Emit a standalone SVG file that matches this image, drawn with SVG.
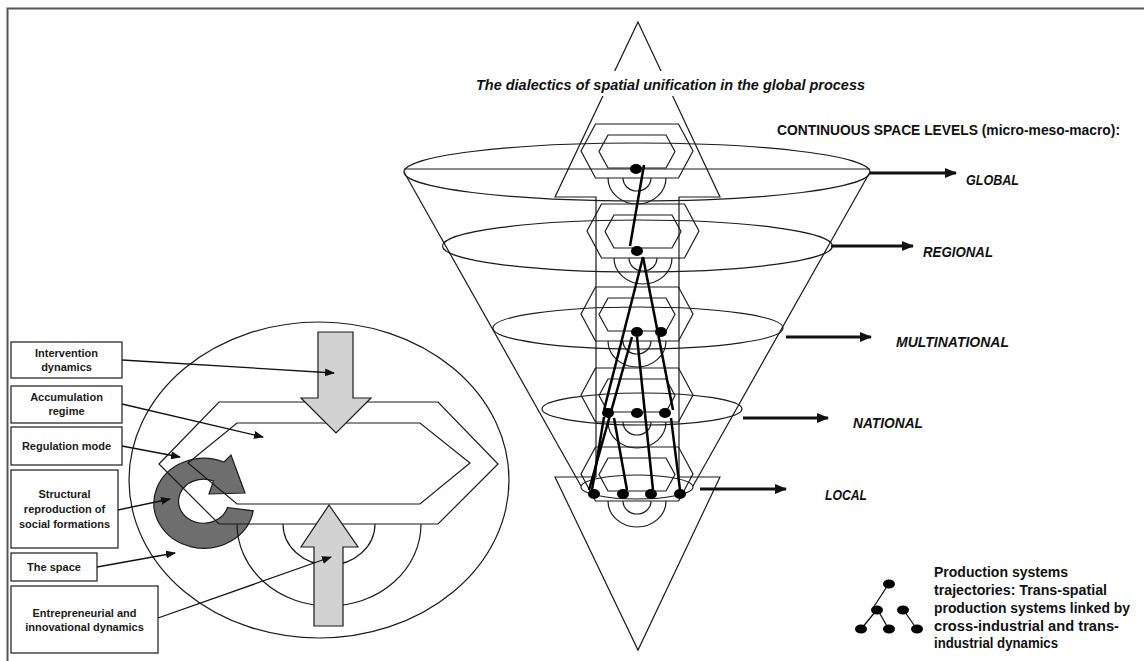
<svg xmlns="http://www.w3.org/2000/svg" xmlns:xlink="http://www.w3.org/1999/xlink" width="1144" height="661" viewBox="0 0 1144 661">
<style>
.ln{fill:none;stroke:#1a1a1a;stroke-width:1.2}
.box{fill:#fff;stroke:#1a1a1a;stroke-width:1.2}
.lbl{font-family:"Liberation Sans",Arial,sans-serif;font-weight:bold;font-size:11px;fill:#1a1a1a;text-anchor:middle}
.lvl{font-family:"Liberation Sans",Arial,sans-serif;font-weight:bold;font-style:italic;font-size:14px;fill:#111}
.hd{font-family:"Liberation Sans",Arial,sans-serif;font-weight:bold;font-size:14px;fill:#111}
.leg{font-family:"Liberation Sans",Arial,sans-serif;font-weight:bold;font-size:14.5px;fill:#111}
.con{fill:none;stroke:#111;stroke-width:1.3;marker-end:url(#ah)}
.lvar{fill:none;stroke:#111;stroke-width:3;marker-end:url(#ahb)}
.traj{fill:none;stroke:#000;stroke-width:2.5}
.dot{fill:#000}
.gray{fill:#d2d2d2;stroke:#1a1a1a;stroke-width:1.2}
</style>
<defs>
<marker id="ah" markerUnits="userSpaceOnUse" markerWidth="10" markerHeight="8" refX="9" refY="4" orient="auto"><path d="M0,0 L10,4 L0,8 Z" fill="#111"/></marker>
<marker id="ahb" markerUnits="userSpaceOnUse" markerWidth="12" markerHeight="10" refX="11" refY="5" orient="auto"><path d="M0,0 L12,5 L0,10 Z" fill="#111"/></marker>
<g id="mod">
<path class="ln" d="M-41.5,0 H41.5 L56,27 L41.5,54 H-41.5 L-56,27 Z"/>
<path class="ln" d="M-29,11 H29 L38,27.5 L29,44 H-29 L-38,27.5 Z"/>
<path class="ln" d="M-29,54 A29,26 0 0 0 29,54"/>
<path class="ln" d="M-14,54 A14,13 0 0 0 14,54"/>
</g>
</defs>
<rect width="1144" height="661" fill="#fff"/>
<path d="M7.5,661 V8.5 H1144" fill="none" stroke="#555" stroke-width="2"/>

<!-- Left diagram -->
<g id="space-ellipse"><ellipse class="ln" cx="319" cy="480" rx="190" ry="158"/></g>
<g id="structural-reproduction-arrow"><path d="M227.5,507.5 L253.2,510.8 A50,45 0 1 1 224,462 L231,455 L245,493 L209,494 L213.5,481 A25,22 0 1 0 227.5,507.5 Z" fill="#6e6e6e" stroke="#1a1a1a" stroke-width="1.2"/></g>
<g id="regulation-hexagon"><polygon class="ln" points="159,464 219,402 438,402 498,464 438,524 219,524"/></g>
<g id="accumulation-hexagon"><polygon class="ln" points="188,463 237,423 420,423 470,463 420,504 237,504"/></g>
<g id="innovation-arcs">
<path class="ln" d="M237,524 A92,82 0 0 0 421,524"/>
<path class="ln" d="M283,524 A46,41 0 0 0 375,524"/>
</g>
<g id="intervention-arrow"><polygon class="gray" points="318,332 353,332 353,398 371,398 336,433 301,398 318,398"/></g>
<g id="entrepreneurial-arrow"><polygon class="gray" points="329,505 358,547 343,547 343,626 314,626 314,547 301,547"/></g>

<g id="box-intervention"><rect class="box" x="11" y="342" width="111" height="36"/><text class="lbl" x="66.5" y="357">Intervention</text><text class="lbl" x="66.5" y="371">dynamics</text></g>
<g id="box-accumulation"><rect class="box" x="11" y="386" width="111" height="37"/><text class="lbl" x="66.5" y="401">Accumulation</text><text class="lbl" x="66.5" y="415">regime</text></g>
<g id="box-regulation"><rect class="box" x="11" y="427" width="111" height="38"/><text class="lbl" x="66.5" y="450">Regulation mode</text></g>
<g id="box-structural"><rect class="box" x="11" y="470" width="107" height="78"/><text class="lbl" x="64.5" y="498">Structural</text><text class="lbl" x="64.5" y="513">reproduction of</text><text class="lbl" x="64.5" y="528">social formations</text></g>
<g id="box-space"><rect class="box" x="11" y="553" width="86" height="28"/><text class="lbl" x="54" y="571">The space</text></g>
<g id="box-entrepreneurial"><rect class="box" x="11" y="586" width="147" height="67"/><text class="lbl" x="84.5" y="617">Entrepreneurial and</text><text class="lbl" x="84.5" y="631">innovational dynamics</text></g>

<!-- Right diagram -->
<g id="cone">
<ellipse class="ln" cx="637" cy="172" rx="233" ry="29"/>
<path class="ln" d="M404,169 H870"/>
<ellipse class="ln" cx="637.5" cy="246" rx="195" ry="26"/>
<ellipse class="ln" cx="638" cy="328" rx="145" ry="21"/>
<ellipse class="ln" cx="642" cy="409" rx="100" ry="16"/>
<ellipse class="ln" cx="637" cy="487" rx="56" ry="12"/>
<path class="ln" d="M404,172 L581,486 M870,172 L693,486"/>
</g>
<g id="unification-double-arrow"><polygon class="ln" points="638,22 720,197 679,197 679,477 720,477 638,650 555,477 596,477 596,197 555,197"/></g>
<g id="level-global"><use xlink:href="#mod" href="#mod" x="637" y="124"/></g>
<g id="level-regional"><use xlink:href="#mod" href="#mod" x="643" y="204"/></g>
<g id="level-multinational"><use xlink:href="#mod" href="#mod" x="637" y="287"/></g>
<g id="level-national"><use xlink:href="#mod" href="#mod" x="637" y="368"/></g>
<g id="level-local"><use xlink:href="#mod" href="#mod" x="637" y="447"/></g>

<g id="title"><rect x="470" y="71" width="400" height="25" fill="#fff"/><text class="lvl" x="476" y="90" textLength="389" lengthAdjust="spacingAndGlyphs">The dialectics of spatial unification in the global process</text></g>
<g id="levels-heading"><text class="hd" x="777" y="135" textLength="343" lengthAdjust="spacingAndGlyphs">CONTINUOUS SPACE LEVELS (micro-meso-macro):</text></g>
<g id="label-global"><text class="lvl" x="966" y="185" textLength="53" lengthAdjust="spacingAndGlyphs">GLOBAL</text></g>
<g id="label-regional"><text class="lvl" x="923" y="257" textLength="70" lengthAdjust="spacingAndGlyphs">REGIONAL</text></g>
<g id="label-multinational"><text class="lvl" x="896" y="347" textLength="113" lengthAdjust="spacingAndGlyphs">MULTINATIONAL</text></g>
<g id="label-national"><text class="lvl" x="853" y="428" textLength="70" lengthAdjust="spacingAndGlyphs">NATIONAL</text></g>
<g id="label-local"><text class="lvl" x="825" y="500" textLength="42" lengthAdjust="spacingAndGlyphs">LOCAL</text></g>

<g id="connectors">
<path class="con" d="M122,360 L334,373"/>
<path class="con" d="M122,404 L263,437"/>
<path class="con" d="M122,446 L180,457"/>
<path class="con" d="M118,510 L170,499"/>
<path class="con" d="M97,567 L175,553"/>
<path class="con" d="M158,618 L331,557"/>
<path class="lvar" d="M870,173 H956"/>
<path class="lvar" d="M831,246 H913"/>
<path class="lvar" d="M786,337 H871"/>
<path class="lvar" d="M743,418 H828"/>
<path class="lvar" d="M700,489 H786"/>
<path class="traj" d="M644,165 L630,246"/>
<path class="traj" d="M643,257 L604,410"/>
<path class="traj" d="M643,257 L673,410"/>
<path class="traj" d="M632,337 L589,490"/>
<path class="traj" d="M637,337 L653,490"/>
<path class="traj" d="M604,417 L592,490"/>
<path class="traj" d="M614,418 L627,490"/>
<path class="traj" d="M671,418 L680,490"/>
</g>
<g id="production-nodes">
<ellipse class="dot" cx="636" cy="169" rx="6" ry="5"/>
<ellipse class="dot" cx="637" cy="251" rx="6" ry="5"/>
<ellipse class="dot" cx="637" cy="332" rx="6" ry="5"/>
<ellipse class="dot" cx="661" cy="332" rx="6" ry="5"/>
<ellipse class="dot" cx="608" cy="413" rx="6" ry="5"/>
<ellipse class="dot" cx="637" cy="413" rx="6" ry="5"/>
<ellipse class="dot" cx="665" cy="413" rx="6" ry="5"/>
<ellipse class="dot" cx="594" cy="494" rx="6" ry="5"/>
<ellipse class="dot" cx="623" cy="494" rx="6" ry="5"/>
<ellipse class="dot" cx="651" cy="494" rx="6" ry="5"/>
<ellipse class="dot" cx="680" cy="494" rx="6" ry="5"/>
</g>

<g id="legend">
<path d="M888,585 L873,608 M875,612 L862,628 M879,612 L888,628 M905,612 L916,628" fill="none" stroke="#111" stroke-width="1.3"/>
<ellipse class="dot" cx="889" cy="584" rx="6" ry="4.5"/>
<ellipse class="dot" cx="877" cy="610" rx="6" ry="4.5"/>
<ellipse class="dot" cx="903" cy="610" rx="6" ry="4.5"/>
<ellipse class="dot" cx="861" cy="629" rx="6" ry="4.5"/>
<ellipse class="dot" cx="889" cy="629" rx="6" ry="4.5"/>
<ellipse class="dot" cx="917" cy="629" rx="6" ry="4.5"/>
<text class="leg" x="934" y="577" textLength="134" lengthAdjust="spacingAndGlyphs">Production systems</text>
<text class="leg" x="934" y="595" textLength="173" lengthAdjust="spacingAndGlyphs">trajectories: Trans-spatial</text>
<text class="leg" x="934" y="613" textLength="196" lengthAdjust="spacingAndGlyphs">production systems linked by</text>
<text class="leg" x="934" y="631" textLength="185" lengthAdjust="spacingAndGlyphs">cross-industrial and trans-</text>
<text class="leg" x="934" y="648" textLength="124" lengthAdjust="spacingAndGlyphs">industrial dynamics</text>
</g>
</svg>
